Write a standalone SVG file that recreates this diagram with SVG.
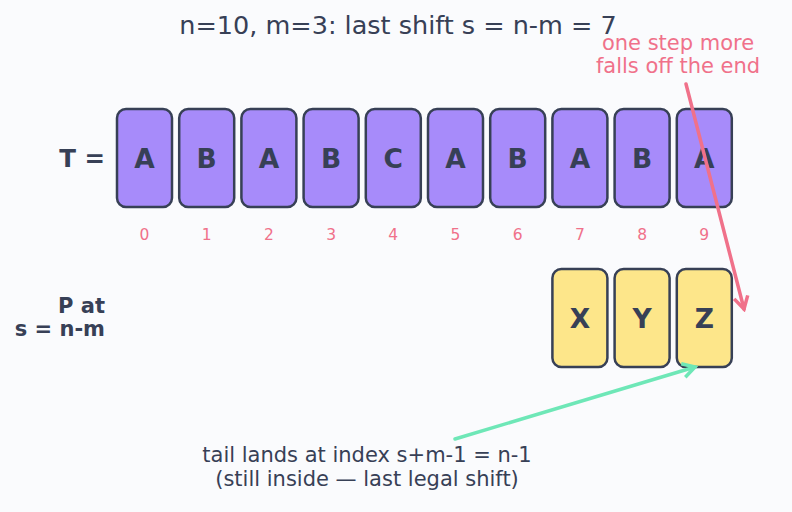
<svg xmlns="http://www.w3.org/2000/svg" width="792" height="512" viewBox="0 0 792 512">
<style>
text{font-family:"DejaVu Sans","Liberation Sans",sans-serif}
.t rect{fill:#a78bfa;stroke:#374056;stroke-width:2.5}
.p rect{fill:#fde68a;stroke:#374056;stroke-width:2.5}
.ch{font-size:26.5px;font-weight:bold;fill:#374056;text-anchor:middle}
.ix{font-size:15.5px;fill:#f0718a;text-anchor:middle}
.lb{font-weight:bold;fill:#374056;text-anchor:end}
</style>
<defs>
<marker id="ap" viewBox="0 0 10 10" refX="8" refY="5" markerWidth="5" markerHeight="5" orient="auto"><path d="M1,1 L8,5 L1,9" fill="none" stroke="#f0718a" stroke-width="2"/></marker>
<marker id="ag" viewBox="0 0 10 10" refX="8" refY="5" markerWidth="5" markerHeight="5" orient="auto"><path d="M1,1 L8,5 L1,9" fill="none" stroke="#6ee7b7" stroke-width="2"/></marker>
</defs>
<rect width="792" height="512" fill="#fafbfd"/>
<text x="398" y="34" font-size="25.5" fill="#374056" text-anchor="middle">n=10, m=3: last shift s = n-m = 7</text>
<text class="lb" x="105" y="166.5" font-size="24.5">T =</text>
<g id="T" class="t">
<g id="t0"><rect x="117" y="109" width="55" height="98" rx="9"/><text class="ch" x="144.5" y="167.5">A</text><text class="ix" x="144.5" y="240">0</text></g>
<g id="t1"><rect x="179.2" y="109" width="55" height="98" rx="9"/><text class="ch" x="206.7" y="167.5">B</text><text class="ix" x="206.7" y="240">1</text></g>
<g id="t2"><rect x="241.4" y="109" width="55" height="98" rx="9"/><text class="ch" x="268.9" y="167.5">A</text><text class="ix" x="268.9" y="240">2</text></g>
<g id="t3"><rect x="303.6" y="109" width="55" height="98" rx="9"/><text class="ch" x="331.1" y="167.5">B</text><text class="ix" x="331.1" y="240">3</text></g>
<g id="t4"><rect x="365.8" y="109" width="55" height="98" rx="9"/><text class="ch" x="393.3" y="167.5">C</text><text class="ix" x="393.3" y="240">4</text></g>
<g id="t5"><rect x="428" y="109" width="55" height="98" rx="9"/><text class="ch" x="455.5" y="167.5">A</text><text class="ix" x="455.5" y="240">5</text></g>
<g id="t6"><rect x="490.2" y="109" width="55" height="98" rx="9"/><text class="ch" x="517.7" y="167.5">B</text><text class="ix" x="517.7" y="240">6</text></g>
<g id="t7"><rect x="552.4" y="109" width="55" height="98" rx="9"/><text class="ch" x="579.9" y="167.5">A</text><text class="ix" x="579.9" y="240">7</text></g>
<g id="t8"><rect x="614.6" y="109" width="55" height="98" rx="9"/><text class="ch" x="642.1" y="167.5">B</text><text class="ix" x="642.1" y="240">8</text></g>
<g id="t9"><rect x="676.8" y="109" width="55" height="98" rx="9"/><text class="ch" x="704.3" y="167.5">A</text><text class="ix" x="704.3" y="240">9</text></g>
</g>
<text class="lb" x="105" y="313" font-size="21">P at</text>
<text class="lb" x="105" y="336" font-size="21">s = n-m</text>
<g id="P" class="p">
<g id="p0"><rect x="552.4" y="269" width="55" height="98" rx="9"/><text class="ch" x="579.9" y="327.5">X</text></g>
<g id="p1"><rect x="614.6" y="269" width="55" height="98" rx="9"/><text class="ch" x="642.1" y="327.5">Y</text></g>
<g id="p2"><rect x="676.8" y="269" width="55" height="98" rx="9"/><text class="ch" x="704.3" y="327.5">Z</text></g>
</g>
<g id="notes">
<text x="678" y="50" font-size="21" fill="#f0718a" text-anchor="middle">one step more</text>
<text x="678" y="73" font-size="21" fill="#f0718a" text-anchor="middle">falls off the end</text>
<text x="367" y="462" font-size="21" fill="#374056" text-anchor="middle">tail lands at index s+m-1 = n-1</text>
<text x="367" y="486" font-size="21" fill="#374056" text-anchor="middle">(still inside — last legal shift)</text>
</g>
<g id="connectors" fill="none" stroke-width="3.5" stroke-linecap="round">
<line x1="686" y1="84" x2="744" y2="309" stroke="#f0718a" marker-end="url(#ap)"/>
<line x1="455" y1="439" x2="695" y2="367" stroke="#6ee7b7" marker-end="url(#ag)"/>
</g>
</svg>
